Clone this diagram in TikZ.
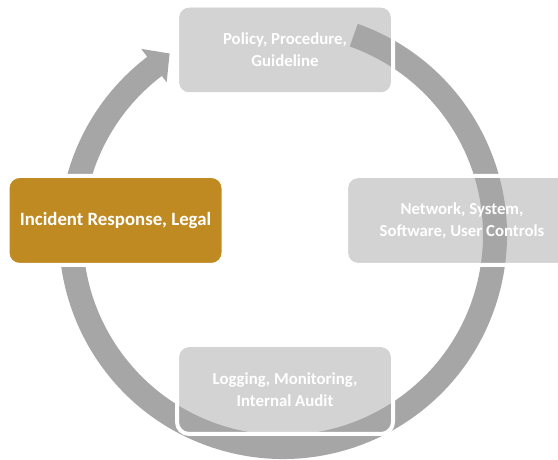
\documentclass[tikz,border=0pt]{standalone}
\usepackage{fontspec}
\setmainfont{Carlito}
\usetikzlibrary{calc}
\pgfdeclarelayer{bg}
\pgfdeclarelayer{ringlayer}
\pgfsetlayers{bg,ringlayer,main}
\definecolor{boxgray}{HTML}{D3D3D3}
\definecolor{ringgray}{HTML}{A6A6A6}
\definecolor{gold}{HTML}{BF8A22}
\tikzset{
  stagebox/.style={draw=white, line width=4pt, outer sep=0pt, rounded corners=12pt,
    minimum width=216pt, minimum height=89pt, inner sep=0pt, align=center,
    text=white, font=\bfseries\fontsize{16.8}{22}\selectfont},
  activebox/.style={stagebox, fill=gold, font=\bfseries\fontsize{18.8}{23}\selectfont},
  boxfill/.style={fill=boxgray, rounded corners=10pt},
  ring/.style={fill=ringgray}
}
\begin{document}
\begin{tikzpicture}[x=1pt,y=1pt]
\useasboundingbox (0,0) rectangle (558,460);
\coordinate (C) at (283,225);
\node[stagebox] (policy) at (285,410) {Policy, Procedure,\\Guideline};
\node[stagebox, minimum width=232pt] (network) at (462,239.5) {Network, System,\\Software, User Controls};
\node[stagebox] (logging) at (285,70.5) {Logging, Monitoring,\\Internal Audit};
\node[activebox] (incident) at (115.5,239.5) {Incident Response, Legal};
\begin{pgfonlayer}{bg}
\foreach \n in {policy,network,logging}{
  \fill[boxfill] ([shift={(2pt,2pt)}]\n.south west) rectangle ([shift={(-2pt,-2pt)}]\n.north east);
}
\end{pgfonlayer}
\begin{pgfonlayer}{ringlayer}
\fill[ring] ($(C)+(70.5:224pt)$) arc[start angle=70.5, end angle=-232.7, radius=224pt]
  -- ($(C)+(127.3:234pt)$) -- ($(C)+(122.0:214pt)$) -- ($(C)+(127.3:192pt)$)
  -- ($(C)+(127.3:200pt)$) arc[start angle=-232.7, end angle=70.5, radius=200pt] -- cycle;
\end{pgfonlayer}
\end{tikzpicture}
\end{document}
